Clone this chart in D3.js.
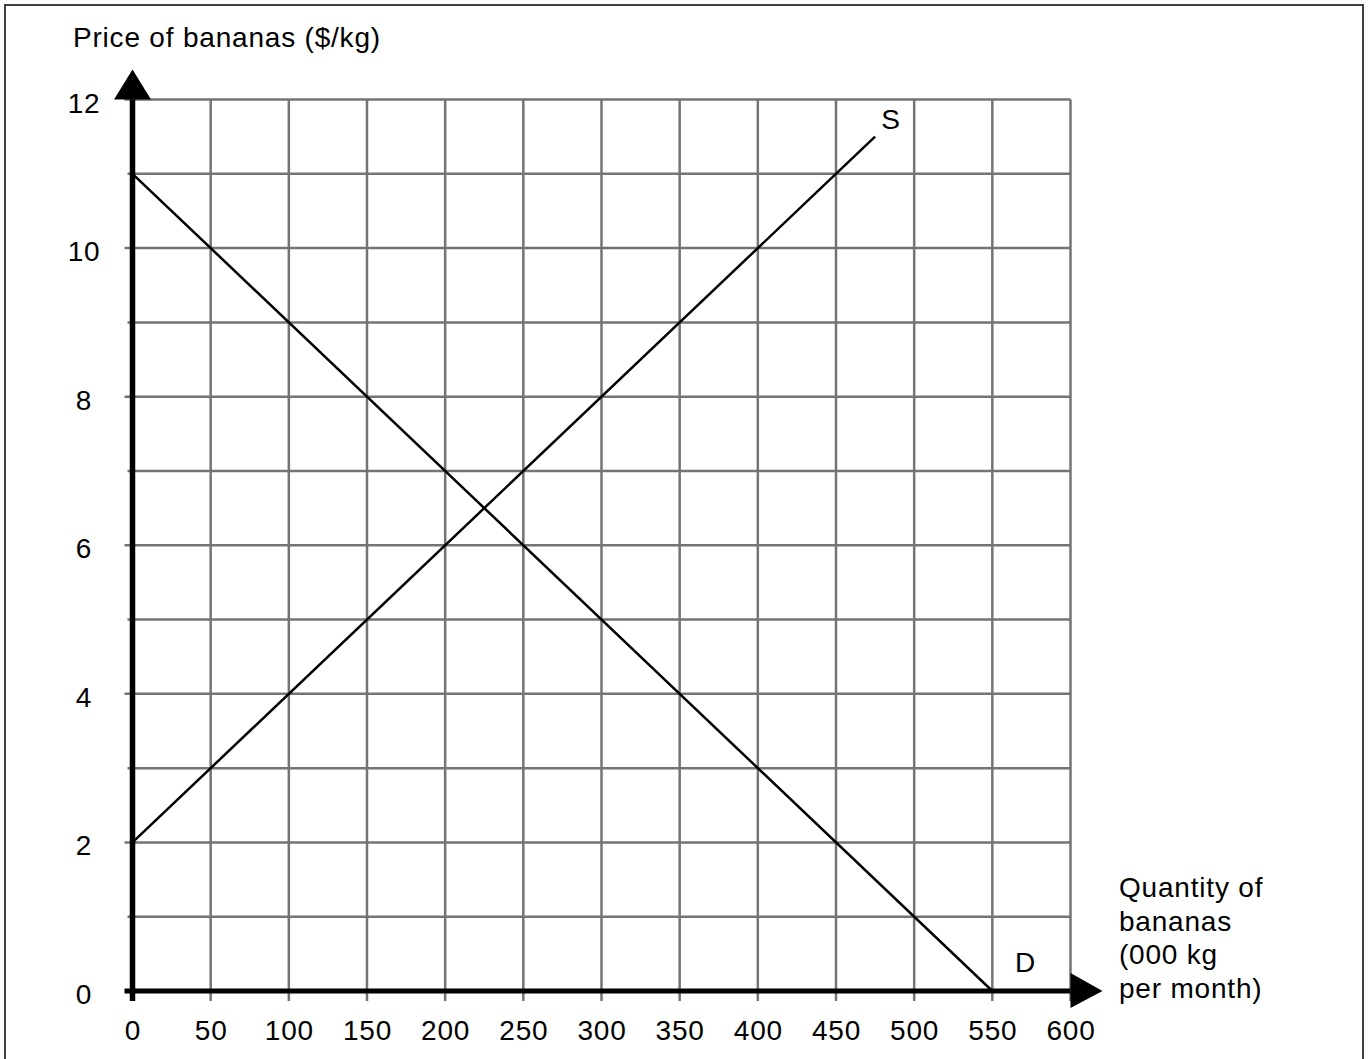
<!DOCTYPE html>
<html>
<head>
<meta charset="utf-8">
<script src="https://cdn.jsdelivr.net/npm/d3@7"></script>
<style>
  html, body { margin: 0; padding: 0; background: #fff; }
  svg { display: block; }
  text { font-family: "Liberation Sans", Arial, Helvetica, sans-serif; fill: #000; }
</style>
</head>
<body>
<svg id="chart" width="1369" height="1059"></svg>
<script>
// ---- data ----
const xTicks = [0, 50, 100, 150, 200, 250, 300, 350, 400, 450, 500, 550, 600];
const yTicks = [0, 2, 4, 6, 8, 10, 12];
const yGrid = [0, 1, 2, 3, 4, 5, 6, 7, 8, 9, 10, 11, 12];
const supply = [{ q: 0, p: 2 }, { q: 475, p: 11.5 }];
const demand = [{ q: 0, p: 11 }, { q: 550, p: 0 }];
const curveLabels = [{ text: "S", q: 485, p: 11.6 }, { text: "D", q: 571, p: 0.25 }];
const yTitle = "Price of bananas ($/kg)";
const xTitle = ["Quantity of", "bananas", "(000 kg", "per month)"];

// ---- layout ----
const svg = d3.select("#chart");
const x = d3.scaleLinear().domain([0, 600]).range([132.5, 1070.5]);
const y = d3.scaleLinear().domain([0, 12]).range([991, 99.5]);
const gridColor = "#747474";
const fontSize = 28;
const ls = "0.8px";

// frame
svg.append("rect")
  .attr("x", 5).attr("y", 5).attr("width", 1358).attr("height", 1070)
  .attr("fill", "none").attr("stroke", "#404040").attr("stroke-width", 2);

// vertical grid lines (extend below axis as ticks)
svg.append("g").selectAll("line").data(xTicks.filter(d => d > 0)).join("line")
  .attr("x1", d => x(d)).attr("x2", d => x(d))
  .attr("y1", y(12)).attr("y2", y(0) + 10)
  .attr("stroke", gridColor).attr("stroke-width", 2.5);

// horizontal grid lines (extend left of axis as ticks)
svg.append("g").selectAll("line").data(yGrid.filter(d => d > 0)).join("line")
  .attr("x1", d => x(0) - (d % 2 === 0 ? 8 : 5)).attr("x2", x(600))
  .attr("y1", d => y(d)).attr("y2", d => y(d))
  .attr("stroke", gridColor).attr("stroke-width", 2.5);

// curves
const line = d3.line().x(d => x(d.q)).y(d => y(d.p));
[supply, demand].forEach(s => {
  svg.append("path").attr("d", line(s))
    .attr("fill", "none").attr("stroke", "#000").attr("stroke-width", 2.5);
});

// axes
svg.append("line")
  .attr("x1", x(0)).attr("x2", x(0))
  .attr("y1", y(0) + 10).attr("y2", y(12))
  .attr("stroke", "#000").attr("stroke-width", 5.5);
svg.append("line")
  .attr("x1", x(0) - 8).attr("x2", x(600))
  .attr("y1", y(0)).attr("y2", y(0))
  .attr("stroke", "#000").attr("stroke-width", 5);

// arrowheads
svg.append("path")
  .attr("d", `M${x(0) - 18.5},${y(12)} L${x(0) + 18.5},${y(12)} L${x(0)},${y(12) - 30} Z`)
  .attr("fill", "#000");
svg.append("path")
  .attr("d", `M${x(600)},${y(0) - 18} L${x(600)},${y(0) + 17} L${x(600) + 32},${y(0)} Z`)
  .attr("fill", "#000");

// x tick labels
svg.append("g").selectAll("text").data(xTicks).join("text")
  .attr("x", d => x(d) + 0.5).attr("y", 1040)
  .attr("text-anchor", "middle").attr("font-size", fontSize).style("letter-spacing", ls)
  .text(d => d);

// y tick labels
svg.append("g").selectAll("text").data(yTicks).join("text")
  .attr("x", 84).attr("y", d => y(d) + 13)
  .attr("text-anchor", "middle").attr("font-size", fontSize).style("letter-spacing", ls)
  .text(d => d);

// curve labels
svg.append("g").selectAll("text").data(curveLabels).join("text")
  .attr("x", d => x(d.q)).attr("y", d => y(d.p))
  .attr("text-anchor", "middle").attr("font-size", fontSize)
  .text(d => d.text);

// axis titles
svg.append("text")
  .attr("x", 73).attr("y", 47)
  .attr("font-size", fontSize).style("letter-spacing", ls)
  .text(yTitle);

svg.append("g").selectAll("text").data(xTitle).join("text")
  .attr("x", 1119).attr("y", (d, i) => 897 + i * 33.7)
  .attr("font-size", fontSize).style("letter-spacing", ls)
  .text(d => d);
</script>
</body>
</html>
